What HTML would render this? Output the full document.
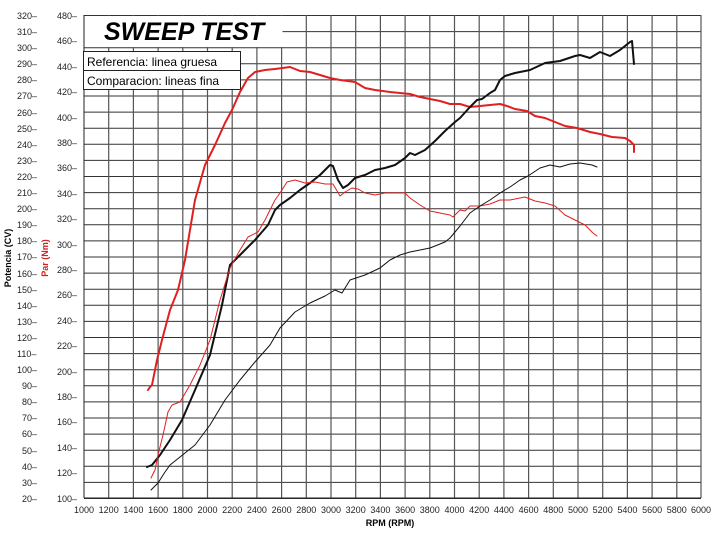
<!DOCTYPE html>
<html><head><meta charset="utf-8"><style>
html,body{margin:0;padding:0;background:#fff;}
svg{display:block;font-family:"Liberation Sans",sans-serif;}
</style></head><body>
<svg width="714" height="537" viewBox="0 0 714 537" xmlns="http://www.w3.org/2000/svg">
<rect width="714" height="537" fill="#fff"/>
<g stroke="#333" stroke-width="1" fill="none">
<path d="M84 498.5H701M84 482.4H701M84 466.3H701M84 450.2H701M84 434.1H701M84 418H701M84 401.9H701M84 385.8H701M84 369.7H701M84 353.6H701M84 337.5H701M84 321.4H701M84 305.3H701M84 289.2H701M84 273.1H701M84 257H701M84 240.9H701M84 224.8H701M84 208.7H701M84 192.6H701M84 176.5H701M84 160.4H701M84 144.3H701M84 128.2H701M84 112.1H701M84 96H701M84 79.9H701M84 63.8H701M84 47.7H701M84 31.6H701M84 15.5H701"/>
</g>
<g stroke="#555" stroke-width="1.2">
<path d="M108.7 15V498M133.4 15V498M158.1 15V498M182.8 15V498M207.5 15V498M232.2 15V498M256.9 15V498M281.6 15V498M306.3 15V498M331 15V498M355.7 15V498M380.4 15V498M405.1 15V498M429.8 15V498M454.5 15V498M479.2 15V498M503.9 15V498M528.6 15V498M553.3 15V498M578 15V498M602.7 15V498M627.4 15V498M652.1 15V498M676.8 15V498M701 15V498"/>
</g>
<path d="M84 15V498M84 498H701" stroke="#222" stroke-width="1"/>
<rect x="84.5" y="16" width="198" height="31" fill="#fff"/>
<text x="104" y="40" font-size="25" font-weight="bold" font-style="italic">SWEEP TEST</text>
<rect x="83.5" y="51.5" width="157" height="19" fill="#fff" stroke="#222"/>
<rect x="83.5" y="70.5" width="157" height="19" fill="#fff" stroke="#222"/>
<text x="87" y="66" font-size="12">Referencia: linea gruesa</text>
<text x="87" y="85" font-size="12">Comparacion: lineas fina</text>
<g font-size="9" fill="#222">
<text x="17" y="19">320–</text><text x="17" y="35">310–</text><text x="17" y="51">300–</text><text x="17" y="67">290–</text><text x="17" y="83">280–</text><text x="17" y="99">270–</text><text x="17" y="116">260–</text><text x="17" y="132">250–</text><text x="17" y="148">240–</text><text x="17" y="164">230–</text><text x="17" y="180">220–</text><text x="17" y="196">210–</text><text x="17" y="212">200–</text><text x="17" y="228">190–</text><text x="17" y="244">180–</text><text x="17" y="260">170–</text><text x="17" y="277">160–</text><text x="17" y="293">150–</text><text x="17" y="309">140–</text><text x="17" y="325">130–</text><text x="17" y="341">120–</text><text x="17" y="357">110–</text><text x="17" y="373">100–</text><text x="22" y="389">90–</text><text x="22" y="405">80–</text><text x="22" y="421">70–</text><text x="22" y="437">60–</text><text x="22" y="454">50–</text><text x="22" y="470">40–</text><text x="22" y="486">30–</text><text x="22" y="502">20–</text>
<text x="57" y="19">480–</text><text x="57" y="44">460–</text><text x="57" y="70">440–</text><text x="57" y="95">420–</text><text x="57" y="121">400–</text><text x="57" y="146">380–</text><text x="57" y="171">360–</text><text x="57" y="197">340–</text><text x="57" y="222">320–</text><text x="57" y="248">300–</text><text x="57" y="273">280–</text><text x="57" y="298">260–</text><text x="57" y="324">240–</text><text x="57" y="349">220–</text><text x="57" y="375">200–</text><text x="57" y="400">180–</text><text x="57" y="425">160–</text><text x="57" y="451">140–</text><text x="57" y="476">120–</text><text x="57" y="502">100–</text>
</g>
<g font-size="9" fill="#222" text-anchor="middle">
<text x="84" y="513">1000</text><text x="108.7" y="513">1200</text><text x="133.4" y="513">1400</text><text x="158.1" y="513">1600</text><text x="182.8" y="513">1800</text><text x="207.5" y="513">2000</text><text x="232.2" y="513">2200</text><text x="256.9" y="513">2400</text><text x="281.6" y="513">2600</text><text x="306.3" y="513">2800</text><text x="331" y="513">3000</text><text x="355.7" y="513">3200</text><text x="380.4" y="513">3400</text><text x="405.1" y="513">3600</text><text x="429.8" y="513">3800</text><text x="454.5" y="513">4000</text><text x="479.2" y="513">4200</text><text x="503.9" y="513">4400</text><text x="528.6" y="513">4600</text><text x="553.3" y="513">4800</text><text x="578" y="513">5000</text><text x="602.7" y="513">5200</text><text x="627.4" y="513">5400</text><text x="652.1" y="513">5600</text><text x="676.8" y="513">5800</text><text x="701" y="513">6000</text>
</g>
<text x="390" y="526" font-size="9" font-weight="bold" text-anchor="middle">RPM (RPM)</text>
<text transform="translate(11,258) rotate(-90)" font-size="9" font-weight="bold" text-anchor="middle">Potencia (CV)</text>
<text transform="translate(48,258) rotate(-90)" font-size="9" font-weight="bold" fill="#d02020" text-anchor="middle">Par (Nm)</text>
<g fill="none" stroke-linejoin="round" stroke-linecap="round">
<polyline stroke="#e02020" stroke-width="2" points="148,390 150,387 152,385 157,360 162,340 170,310 178,290 185,260 195,200 205,165 215,145 225,123 232,110 240,92 248,78 255,72 265,70 275,69 290,67 300,71 310,72 320,75 330,78 340,80 355,82 365,88 375,90 390,92 400,93 410,94 420,97 430,99 440,101 450,104 460,104 470,107 480,106 490,105 500,104 507,106 515,109 527,111 535,116 545,118 555,122 565,126 577,128 590,132 600,134 612,137 625,138 630,141 634,145 634,152"/>
<polyline stroke="#111" stroke-width="2" points="147,467 152,465 160,455 170,440 182,420 195,390 210,355 222,305 230,265 233,262 240,255 255,240 268,225 275,210 280,205 290,198 300,190 310,183 320,175 330,165 333,166 338,180 343,188 348,185 355,178 365,175 375,170 385,168 395,165 405,158 410,153 415,155 425,150 435,141 445,131 455,122 460,118 470,107 477,100 482,99 490,93 495,90 500,80 505,76 515,73 530,70 545,63 560,61 575,56 580,55 590,58 595,55 600,52 610,56 615,53 620,50 630,42 632,41 634,64"/>
<polyline stroke="#e02020" stroke-width="1" points="151,478 155,470 158,455 163,435 168,412 172,405 180,402 190,385 200,365 210,340 220,300 230,268 240,250 248,237 258,232 265,220 275,200 280,193 287,182 295,180 305,183 315,182 325,184 333,184 340,196 345,192 352,188 358,189 365,193 375,195 385,193 395,193 405,193 410,198 420,205 430,211 440,213 450,215 453,217 460,210 465,211 470,206 480,206 490,204 500,200 510,200 520,198 525,197 535,201 545,203 555,206 565,215 575,220 585,225 593,233 597,236"/>
<polyline stroke="#111" stroke-width="1" points="151,490 158,483 165,472 170,465 180,457 195,445 210,425 225,400 240,380 255,362 270,345 280,328 295,312 310,303 325,296 335,290 342,293 350,280 365,275 380,268 390,260 400,255 410,252 420,250 430,248 445,242 450,238 460,226 470,213 480,206 490,200 500,193 510,187 520,180 528,176 540,168 550,165 560,167 570,164 580,163 592,165 597,167"/>
</g>
</svg>
</body></html>
